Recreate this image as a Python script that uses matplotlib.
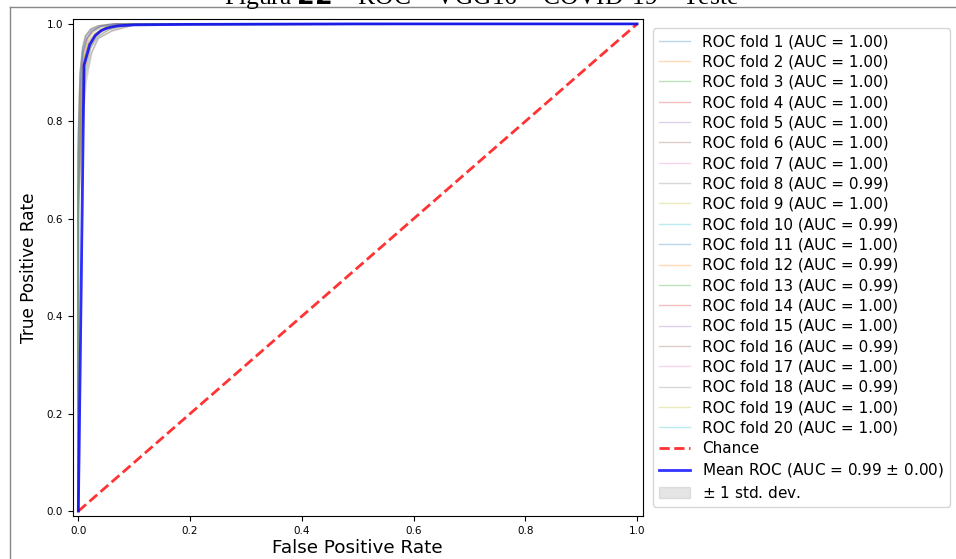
import numpy as np
import matplotlib.pyplot as plt
from matplotlib.lines import Line2D

# fold curves (fpr, tpr)
fold_fpr = [
    [0, 0, 0.004, 0.008, 0.015, 0.025, 0.04, 0.07, 1.0],
    [0, 0, 0.005, 0.010, 0.018, 0.030, 0.05, 0.08, 1.0],
    [0, 0, 0.003, 0.007, 0.012, 0.022, 0.035, 0.06, 1.0],
    [0, 0, 0.006, 0.012, 0.020, 0.028, 0.045, 0.08, 1.0],
    [0, 0, 0.004, 0.009, 0.016, 0.026, 0.04, 0.07, 1.0],
    [0, 0, 0.005, 0.011, 0.019, 0.030, 0.05, 0.08, 1.0],
    [0, 0, 0.003, 0.008, 0.014, 0.024, 0.04, 0.07, 1.0],
    [0, 0, 0.007, 0.014, 0.024, 0.036, 0.06, 0.10, 1.0],
    [0, 0, 0.004, 0.010, 0.017, 0.027, 0.045, 0.08, 1.0],
    [0, 0, 0.006, 0.013, 0.022, 0.034, 0.055, 0.09, 1.0],
    [0, 0, 0.004, 0.008, 0.015, 0.024, 0.04, 0.07, 1.0],
    [0, 0, 0.006, 0.012, 0.021, 0.033, 0.055, 0.09, 1.0],
    [0, 0, 0.005, 0.011, 0.020, 0.031, 0.05, 0.08, 1.0],
    [0, 0, 0.003, 0.008, 0.013, 0.022, 0.035, 0.06, 1.0],
    [0, 0, 0.004, 0.009, 0.016, 0.025, 0.04, 0.07, 1.0],
    [0, 0, 0.007, 0.013, 0.023, 0.035, 0.06, 0.10, 1.0],
    [0, 0, 0.004, 0.009, 0.015, 0.024, 0.04, 0.07, 1.0],
    [0, 0, 0.006, 0.012, 0.022, 0.034, 0.055, 0.09, 1.0],
    [0, 0, 0.004, 0.010, 0.016, 0.026, 0.045, 0.08, 1.0],
    [0, 0, 0.003, 0.008, 0.014, 0.023, 0.04, 0.07, 1.0],
]
fold_tpr = [
    [0, 0.74, 0.88, 0.94, 0.97, 0.985, 0.995, 1.0, 1.0],
    [0, 0.70, 0.86, 0.93, 0.96, 0.980, 0.992, 1.0, 1.0],
    [0, 0.78, 0.90, 0.95, 0.975, 0.990, 0.996, 1.0, 1.0],
    [0, 0.66, 0.84, 0.92, 0.95, 0.975, 0.990, 1.0, 1.0],
    [0, 0.72, 0.87, 0.94, 0.97, 0.985, 0.995, 1.0, 1.0],
    [0, 0.69, 0.85, 0.93, 0.965, 0.980, 0.993, 1.0, 1.0],
    [0, 0.76, 0.89, 0.95, 0.975, 0.988, 0.996, 1.0, 1.0],
    [0, 0.60, 0.78, 0.88, 0.94, 0.970, 0.985, 0.998, 1.0],
    [0, 0.73, 0.87, 0.93, 0.97, 0.985, 0.994, 1.0, 1.0],
    [0, 0.64, 0.82, 0.90, 0.95, 0.972, 0.988, 0.998, 1.0],
    [0, 0.75, 0.88, 0.94, 0.97, 0.986, 0.995, 1.0, 1.0],
    [0, 0.65, 0.83, 0.91, 0.95, 0.975, 0.989, 0.999, 1.0],
    [0, 0.68, 0.85, 0.92, 0.96, 0.978, 0.991, 1.0, 1.0],
    [0, 0.77, 0.90, 0.95, 0.975, 0.989, 0.996, 1.0, 1.0],
    [0, 0.72, 0.87, 0.94, 0.97, 0.985, 0.995, 1.0, 1.0],
    [0, 0.62, 0.80, 0.89, 0.94, 0.970, 0.986, 0.998, 1.0],
    [0, 0.73, 0.88, 0.94, 0.97, 0.986, 0.995, 1.0, 1.0],
    [0, 0.64, 0.82, 0.90, 0.95, 0.973, 0.988, 0.999, 1.0],
    [0, 0.71, 0.86, 0.93, 0.965, 0.982, 0.994, 1.0, 1.0],
    [0, 0.76, 0.89, 0.95, 0.975, 0.988, 0.996, 1.0, 1.0],
]
fold_auc = [1.00, 1.00, 1.00, 1.00, 1.00, 1.00, 1.00, 0.99, 1.00, 0.99,
            1.00, 0.99, 0.99, 1.00, 1.00, 0.99, 1.00, 0.99, 1.00, 1.00]

mean_fpr = [0, 0.0101, 0.0202, 0.0303, 0.0404, 0.0505, 0.0606, 0.0707, 0.1, 0.2, 0.5, 1.0]
mean_tpr = [0, 0.915, 0.957, 0.976, 0.986, 0.991, 0.994, 0.996, 0.998, 0.999, 1.0, 1.0]
std_tpr = [0, 0.004, 0.003, 0.002, 0.002, 0.001, 0.001, 0.001, 0.0005, 0.0, 0.0, 0.0]
mean_auc = 0.99
std_auc = 0.00

fig = plt.figure(figsize=(9.56, 5.59), dpi=100)
ax = fig.add_axes([0.0761, 0.0769, 0.5962, 0.8891])

for i in range(len(fold_fpr)):
    ax.plot(fold_fpr[i], fold_tpr[i], lw=1, alpha=0.3,
            label='ROC fold %d (AUC = %0.2f)' % (i + 1, fold_auc[i]))

ax.plot([0, 1], [0, 1], linestyle='--', lw=2, color='r', label='Chance', alpha=.8)

ax.plot(mean_fpr, mean_tpr, color='b',
        label=r'Mean ROC (AUC = %0.2f $\pm$ %0.2f)' % (mean_auc, std_auc), lw=2, alpha=.8)

upper = np.minimum(np.array(mean_tpr) + np.array(std_tpr), 1)
lower = np.maximum(np.array(mean_tpr) - np.array(std_tpr), 0)
ax.fill_between(mean_fpr, lower, upper, color='grey', alpha=.2, label=r'$\pm$ 1 std. dev.')

ax.set_xlim(-0.01, 1.01)
ax.set_ylim(-0.01, 1.01)
ax.tick_params(labelsize=7.5)
ax.set_xlabel('False Positive Rate', fontsize=13.2, labelpad=2)
ax.set_ylabel('True Positive Rate', fontsize=12.2, labelpad=6)
ax.legend(loc='upper left', bbox_to_anchor=(1.018, 0.982), fontsize=11,
          labelspacing=0.35, borderaxespad=0)

# page frame and cut-off caption
fig.add_artist(Line2D([0.0105, 1.0], [0.9875, 0.9875], color='#888888', lw=1))
fig.add_artist(Line2D([0.0105, 0.0105], [0.0, 0.9875], color='#888888', lw=1))
fig.text(0.504, 0.993, 'Figura $\\mathbf{22}$ – ROC – VGG16 – COVID-19 – Teste',
         ha='center', va='baseline', fontsize=18.4, family='Liberation Serif')

fig.savefig('out.png', dpi=100)
